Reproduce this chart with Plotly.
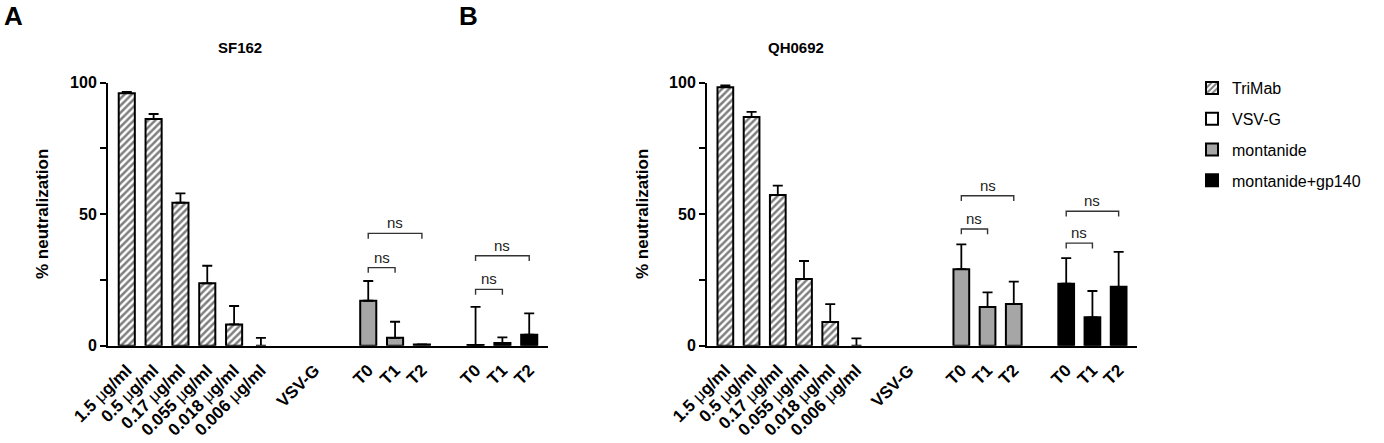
import plotly.graph_objects as go

# x categories
trimab_labels = ["1.5 μg/ml", "0.5 μg/ml", "0.17 μg/ml",
                 "0.055 μg/ml", "0.018 μg/ml", "0.006 μg/ml"]
vsvg_labels = ["VSV-G"]
time_labels = ["T0", "T1", "T2"]

# SF162 (panel A)
sf162_trimab = [96.0, 86.2, 54.4, 23.7, 8.1, 0.0]
sf162_trimab_err = [0.5, 1.9, 3.5, 6.7, 7.0, 3.0]
sf162_vsvg = [0.0]
sf162_vsvg_err = [0.0]
sf162_mont = [17.1, 3.0, 0.5]
sf162_mont_err = [7.5, 6.1, 0.0]
sf162_gp140 = [0.3, 1.0, 4.2]
sf162_gp140_err = [14.5, 2.2, 8.1]
# (group, from, to, bracket height)
sf162_ns = [("mont", 0, 1, 29.7), ("mont", 0, 2, 42.7),
            ("gp140", 0, 1, 21.4), ("gp140", 0, 2, 34.2)]

# QH0692 (panel B)
qh0692_trimab = [98.3, 87.0, 57.3, 25.4, 9.0, 0.0]
qh0692_trimab_err = [0.7, 1.9, 3.6, 6.8, 6.8, 2.8]
qh0692_vsvg = [0.0]
qh0692_vsvg_err = [0.0]
qh0692_mont = [29.1, 14.7, 15.9]
qh0692_mont_err = [9.4, 5.6, 8.5]
qh0692_gp140 = [23.6, 10.8, 22.4]
qh0692_gp140_err = [9.7, 10.0, 13.3]
qh0692_ns = [("mont", 0, 1, 44.4), ("mont", 0, 2, 57.0),
             ("gp140", 0, 1, 39.0), ("gp140", 0, 2, 51.1)]

W, H = 1384, 443
FONT = "Liberation Sans, Arial, sans-serif"
GREY = "#a6a6a6"


def mu(label):
    return label.replace("μ", "<span style='font-weight:normal'>μ</span>")


# slot positions: one empty slot between groups
def positions():
    pos = {}
    start = 0
    for key, labels in [("trimab", trimab_labels), ("vsvg", vsvg_labels),
                        ("mont", time_labels), ("gp140", time_labels)]:
        pos[key] = list(range(start, start + len(labels)))
        start += len(labels) + 1
    return pos


POS = positions()

styles = {
    "trimab": dict(name="TriMab", color="white", pattern=dict(shape="/", fgcolor="black", bgcolor="white", size=5, solidity=0.5)),
    "vsvg": dict(name="VSV-G", color="white", pattern=None),
    "mont": dict(name="montanide", color=GREY, pattern=None),
    "gp140": dict(name="montanide+gp140", color="black", pattern=None),
}


def make_marker(key, widths):
    st = styles[key]
    m = dict(color=st["color"], line=dict(color="black", width=widths))
    if st["pattern"]:
        m["pattern"] = st["pattern"]
    return m


fig = go.Figure()

# legend entries (no data of their own)
for key, st in styles.items():
    fig.add_trace(go.Bar(x=[None], y=[None], name=st["name"], marker=make_marker(key, 2),
                         showlegend=True, legendgroup=key))

panels = [
    ("x", "y", {"trimab": (sf162_trimab, sf162_trimab_err), "vsvg": (sf162_vsvg, sf162_vsvg_err),
                "mont": (sf162_mont, sf162_mont_err), "gp140": (sf162_gp140, sf162_gp140_err)}, sf162_ns),
    ("x2", "y2", {"trimab": (qh0692_trimab, qh0692_trimab_err), "vsvg": (qh0692_vsvg, qh0692_vsvg_err),
                  "mont": (qh0692_mont, qh0692_mont_err), "gp140": (qh0692_gp140, qh0692_gp140_err)}, qh0692_ns),
]

for xa, ya, series, ns_list in panels:
    for key, (vals, errs) in series.items():
        # no outline for empty bars (it would just sit on the axis)
        fig.add_trace(go.Bar(
            x=POS[key], y=vals, width=0.6, name=styles[key]["name"],
            marker=make_marker(key, [2 if v > 0 else 0 for v in vals]),
            xaxis=xa, yaxis=ya, showlegend=False, legendgroup=key,
            error_y=dict(type="data", array=errs, arrayminus=[0] * len(errs),
                         symmetric=False, color="black", thickness=1.8, width=5,
                         visible=any(e > 0 for e in errs)),
        ))
    for key, i0, i1, yb in ns_list:
        x0, x1 = POS[key][i0], POS[key][i1]
        fig.add_shape(type="path", xref=xa, yref=ya,
                      path=f"M {x0},{yb - 2} L {x0},{yb} L {x1},{yb} L {x1},{yb - 2}",
                      line=dict(color="#333", width=1.4))
        fig.add_annotation(x=(x0 + x1) / 2, y=yb, xref=xa, yref=ya, text="ns",
                           showarrow=False, yanchor="bottom", yshift=0,
                           font=dict(family=FONT, size=15, color="#222"))

tickvals = POS["trimab"] + POS["vsvg"] + POS["mont"] + POS["gp140"]
ticktext = [mu(t) for t in trimab_labels] + vsvg_labels + time_labels + time_labels

xcommon = dict(tickmode="array", tickvals=tickvals, ticktext=ticktext, tickangle=-45,
               showline=True, linecolor="black", linewidth=2, ticks="", showgrid=False,
               zeroline=False, range=[-0.7, 15.7], automargin=False, ticklabelstandoff=6,
               tickfont=dict(family=FONT, size=17, color="black", weight="bold"))
ycommon = dict(range=[0, 100], tickvals=[0, 50, 100], showline=True, linecolor="black",
               linewidth=2, ticks="outside", ticklen=6, tickwidth=2, tickcolor="black",
               showgrid=False, zeroline=False, automargin=False,
               minor=dict(tickvals=[25, 75], ticks="outside", ticklen=6, tickwidth=2, tickcolor="black"),
               tickfont=dict(family=FONT, size=16, color="black", weight="bold"))

y_dom = [(H - 345.7) / H, (H - 82.7) / H]
fig.update_layout(
    width=W, height=H, margin=dict(l=0, r=0, t=0, b=0),
    paper_bgcolor="white", plot_bgcolor="white", barmode="overlay",
    xaxis={**xcommon, "domain": [108 / W, 548 / W], "anchor": "y"},
    yaxis={**ycommon, "domain": y_dom, "anchor": "x"},
    xaxis2={**xcommon, "domain": [707 / W, 1137 / W], "anchor": "y2"},
    yaxis2={**ycommon, "domain": y_dom, "anchor": "x2"},
    legend=dict(x=1192 / W, y=1 - 71 / H, xanchor="left", yanchor="top",
                font=dict(family=FONT, size=16, color="black"),
                tracegroupgap=7, itemwidth=30, bgcolor="rgba(0,0,0,0)"),
)

texts = [
    ("A", 2, 16, 26, "left"), ("B", 457, 16, 26, "left"),
    ("SF162", 240, 48, 15, "center"), ("QH0692", 796, 48, 15, "center"),
]
for t, px, py, size, anchor in texts:
    fig.add_annotation(x=px / W, y=1 - py / H, xref="paper", yref="paper", text=t,
                       showarrow=False, xanchor=anchor, yanchor="middle",
                       font=dict(family=FONT, size=size, color="black", weight="bold"))

for px in (43, 643):
    fig.add_annotation(x=px / W, y=1 - 214 / H, xref="paper", yref="paper",
                       text="% neutralization", textangle=-90, showarrow=False,
                       xanchor="center", yanchor="middle",
                       font=dict(family=FONT, size=17, color="black", weight="bold"))

fig.write_html("out.html", config={"displayModeBar": False},
               post_script="document.body.style.margin = '0';")
